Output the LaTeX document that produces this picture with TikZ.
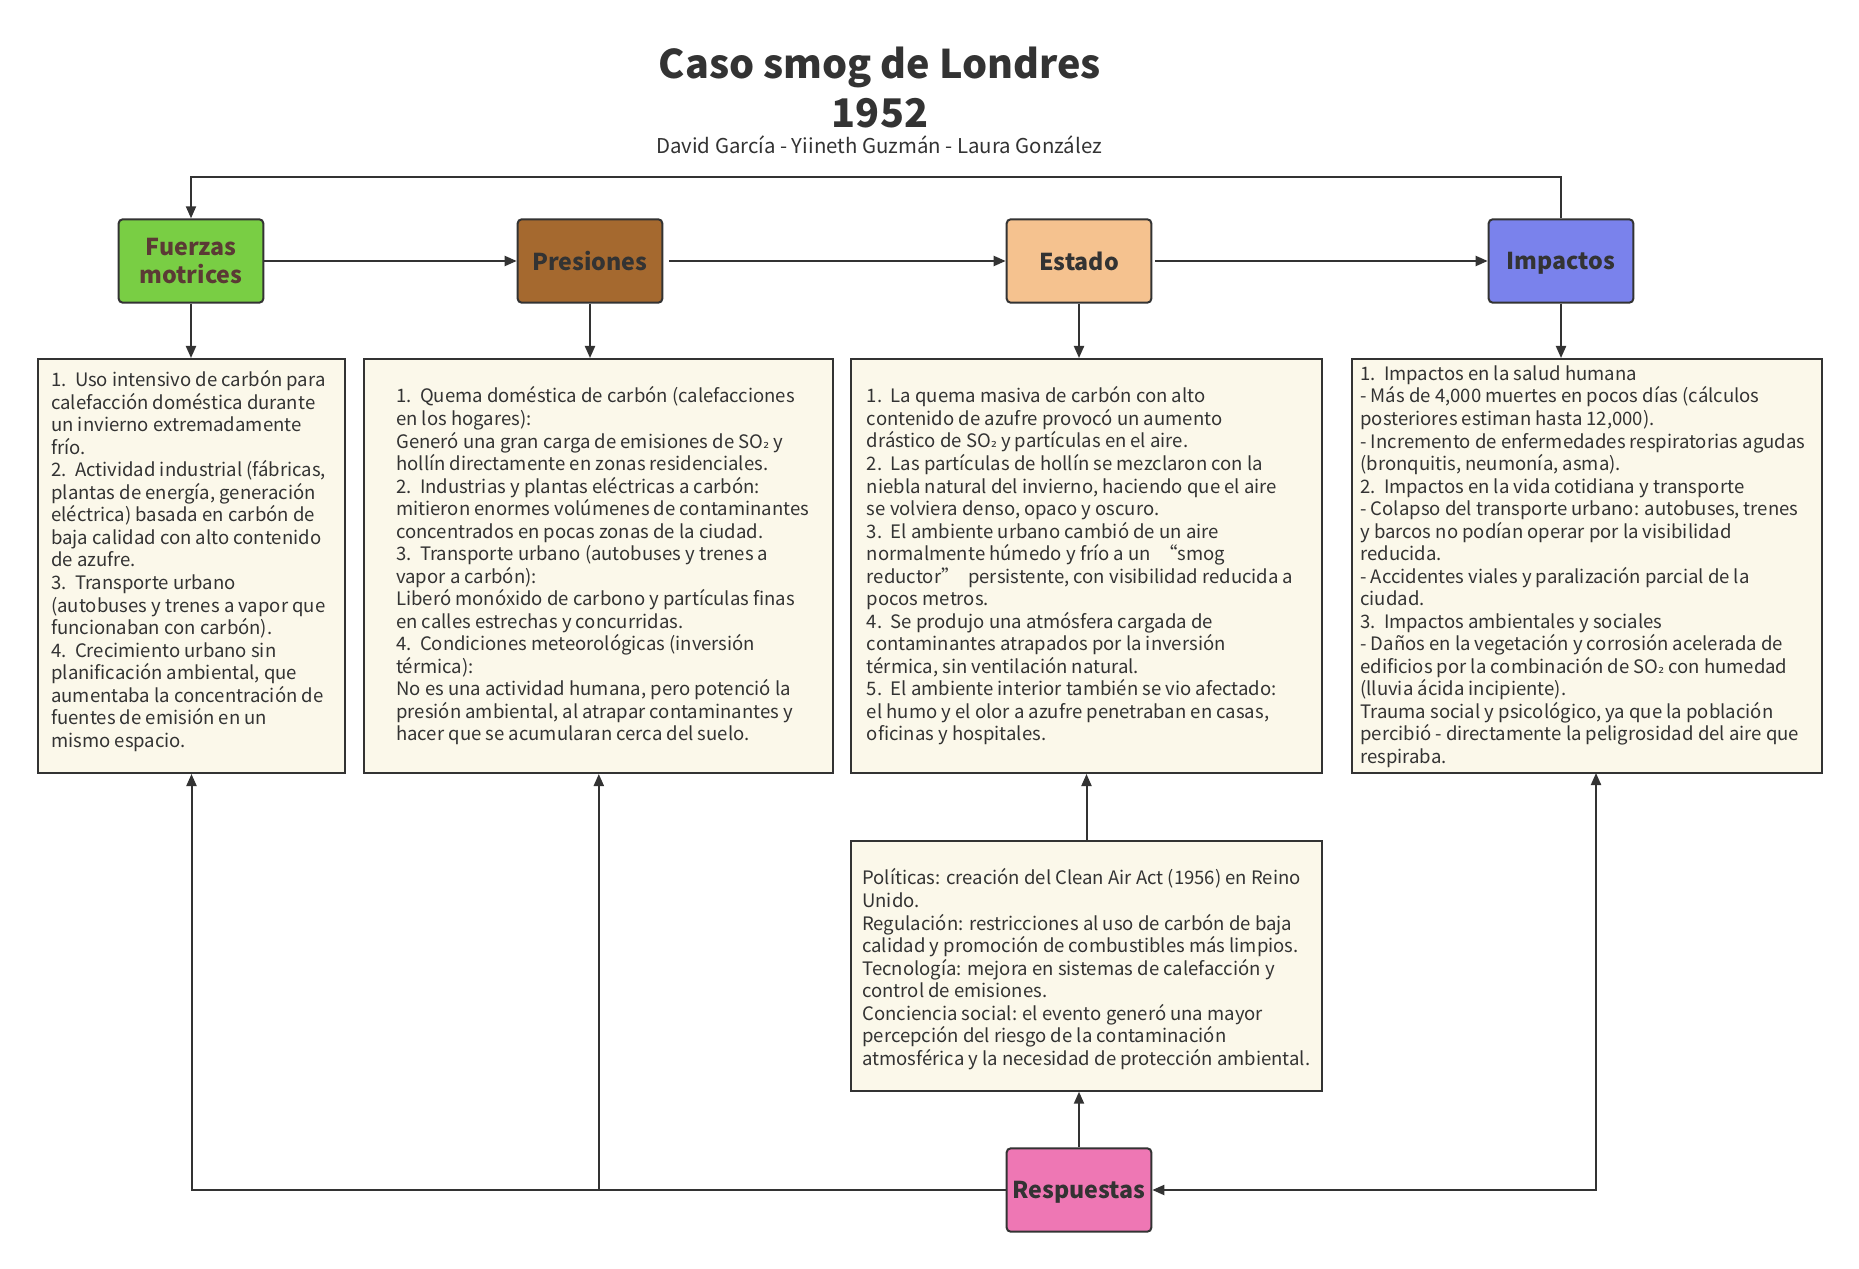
\documentclass[tikz,border=0pt]{standalone}
\usepackage{fontspec}
\setmainfont{Noto Sans CJK SC}
\newfontfamily\dejavu{DejaVu Sans}
\newcommand{\subtwo}{{\dejavu\fontsize{11}{12}\selectfont ₂}}
\usetikzlibrary{arrows.meta}
\definecolor{lc}{HTML}{333333}
\definecolor{tc}{HTML}{333333}
\definecolor{fmtext}{HTML}{5B3A35}
\definecolor{cgreen}{HTML}{79CE44}
\definecolor{cbrown}{HTML}{A5692F}
\definecolor{cpeach}{HTML}{F5C28F}
\definecolor{cblue}{HTML}{7A82EC}
\definecolor{cpink}{HTML}{EE77B4}
\definecolor{cream}{HTML}{FBF8EA}
\begin{document}
\begin{tikzpicture}[x=0.75pt,y=-0.75pt,
  hdr/.style={draw=lc, line width=1.5pt, rounded corners=3pt, minimum width=108.5pt, minimum height=62.5pt,
    font=\fontsize{17.4}{21}\selectfont\bfseries, text=tc, align=center, inner sep=2pt},
  one/.style={text depth=0pt},
  tbox/.style={draw=lc, line width=1.5pt, fill=cream},
  txt/.style={anchor=west, align=left, font=\fontsize{13.9}{16.9}\selectfont, text=tc, inner sep=0pt},
  arr/.style={draw=lc, line width=1.5pt, -{Triangle[length=9pt,width=7.5pt]}},
  barr/.style={draw=lc, line width=1.5pt, {Triangle[length=9pt,width=7.5pt]}-{Triangle[length=9pt,width=7.5pt]}}
]
\useasboundingbox (0,0) rectangle (1859,1269);
\fill[white] (0,0) rectangle (1859,1269);

% title
\node[font=\fontsize{29.6}{30}\selectfont\bfseries, text=tc] (title) at (880,67) {Caso smog de Londres};
\node[font=\fontsize{29.6}{30}\selectfont\bfseries, text=tc] (year) at (880,113) {1952};
\node[font=\fontsize{15.3}{17}\selectfont, text=tc] (authors) at (879,145) {David García - Yiineth Guzmán - Laura González};

% header boxes
\node[hdr, fill=cgreen, text=fmtext] (fm) at (191,261) {Fuerzas\\motrices};
\node[hdr, one, fill=cbrown] (pr) at (590,261) {Presiones};
\node[hdr, one, fill=cpeach] (es) at (1079,261) {Estado};
\node[hdr, one, fill=cblue] (im) at (1561,261) {Impactos};
\node[hdr, one, fill=cpink] (rs) at (1079,1190) {Respuestas};

% text boxes
\node[tbox, minimum width=230.25pt, minimum height=310.5pt] (t1) at (191.5,566) {};
\node[tbox, minimum width=352pt, minimum height=310.5pt] (t2) at (598.8,566) {};
\node[tbox, minimum width=353.25pt, minimum height=310.5pt] (t3) at (1086.5,566) {};
\node[tbox, minimum width=352.5pt, minimum height=310.5pt] (t4) at (1586.8,566) {};
\node[tbox, minimum width=353.25pt, minimum height=187.5pt] (t5) at (1086.5,965.7) {};

\node[txt] (x1) at (51,561) {1.~~Uso intensivo de carbón para\\
calefacción doméstica durante\\
un invierno extremadamente\\
frío.\\
2.~~Actividad industrial (fábricas,\\
plantas de energía, generación\\
eléctrica) basada en carbón de\\
baja calidad con alto contenido\\
de azufre.\\
3.~~Transporte urbano\\
(autobuses y trenes a vapor que\\
funcionaban con carbón).\\
4.~~Crecimiento urbano sin\\
planificación ambiental, que\\
aumentaba la concentración de\\
fuentes de emisión en un\\
mismo espacio.};

\node[txt] (x2) at (396,566) {1.~~Quema doméstica de carbón (calefacciones\\
en los hogares):\\
Generó una gran carga de emisiones de SO\subtwo{} y\\
hollín directamente en zonas residenciales.\\
2.~~Industrias y plantas eléctricas a carbón:\\
mitieron enormes volúmenes de contaminantes\\
concentrados en pocas zonas de la ciudad.\\
3.~~Transporte urbano (autobuses y trenes a\\
vapor a carbón):\\
Liberó monóxido de carbono y partículas finas\\
en calles estrechas y concurridas.\\
4.~~Condiciones meteorológicas (inversión\\
térmica):\\
No es una actividad humana, pero potenció la\\
presión ambiental, al atrapar contaminantes y\\
hacer que se acumularan cerca del suelo.};

\node[txt] (x3) at (866.7,566) {1.~~La quema masiva de carbón con alto\\
contenido de azufre provocó un aumento\\
drástico de SO\subtwo{} y partículas en el aire.\\
2.~~Las partículas de hollín se mezclaron con la\\
niebla natural del invierno, haciendo que el aire\\
se volviera denso, opaco y oscuro.\\
3.~~El ambiente urbano cambió de un aire\\
normalmente húmedo y frío a un ~“smog\\
reductor” ~persistente, con visibilidad reducida a\\
pocos metros.\\
4.~~Se produjo una atmósfera cargada de\\
contaminantes atrapados por la inversión\\
térmica, sin ventilación natural.\\
5.~~El ambiente interior también se vio afectado:\\
el humo y el olor a azufre penetraban en casas,\\
oficinas y hospitales.};

\node[txt] (x4) at (1360,566.7) {1.~~Impactos en la salud humana\\
- Más de 4,000 muertes en pocos días (cálculos\\
posteriores estiman hasta 12,000).\\
- Incremento de enfermedades respiratorias agudas\\
(bronquitis, neumonía, asma).\\
2.~~Impactos en la vida cotidiana y transporte\\
- Colapso del transporte urbano: autobuses, trenes\\
y barcos no podían operar por la visibilidad\\
reducida.\\
- Accidentes viales y paralización parcial de la\\
ciudad.\\
3.~~Impactos ambientales y sociales\\
- Daños en la vegetación y corrosión acelerada de\\
edificios por la combinación de SO\subtwo{} con humedad\\
(lluvia ácida incipiente).\\
Trauma social y psicológico, ya que la población\\
percibió - directamente la peligrosidad del aire que\\
respiraba.};

\node[txt] (x5) at (862,969.2) {Políticas: creación del Clean Air Act (1956) en Reino\\
Unido.\\
Regulación: restricciones al uso de carbón de baja\\
calidad y promoción de combustibles más limpios.\\
Tecnología: mejora en sistemas de calefacción y\\
control de emisiones.\\
Conciencia social: el evento generó una mayor\\
percepción del riesgo de la contaminación\\
atmosférica y la necesidad de protección ambiental.};

% connectors
\coordinate (topy) at (0,177);
\coordinate (c4) at (1596,773);
\draw[arr] (fm.east) -- (pr.west);
\draw[arr] ([xshift=4.5pt]pr.east) -- (es.west);
\draw[arr] ([xshift=2pt]es.east) -- (im.west);
\draw[arr] (im.north) -- (im.north |- topy) -- (fm.north |- topy) -- (fm.north);
\draw[arr] (fm.south) -- (fm.south |- t1.north);
\draw[arr] (pr.south) -- (pr.south |- t2.north);
\draw[arr] (es.south) -- (es.south |- t3.north);
\draw[arr] (im.south) -- (im.south |- t4.north);
\draw[arr] (rs.north) -- (rs.north |- t5.south);
\draw[arr] (t5.north) -- (t3.south);
\draw[arr] (rs.west) -| (t1.south);
\draw[arr] (t2.south |- rs.west) -- (t2.south);
\draw[barr] (rs.east) -| (c4);
\end{tikzpicture}
\end{document}
